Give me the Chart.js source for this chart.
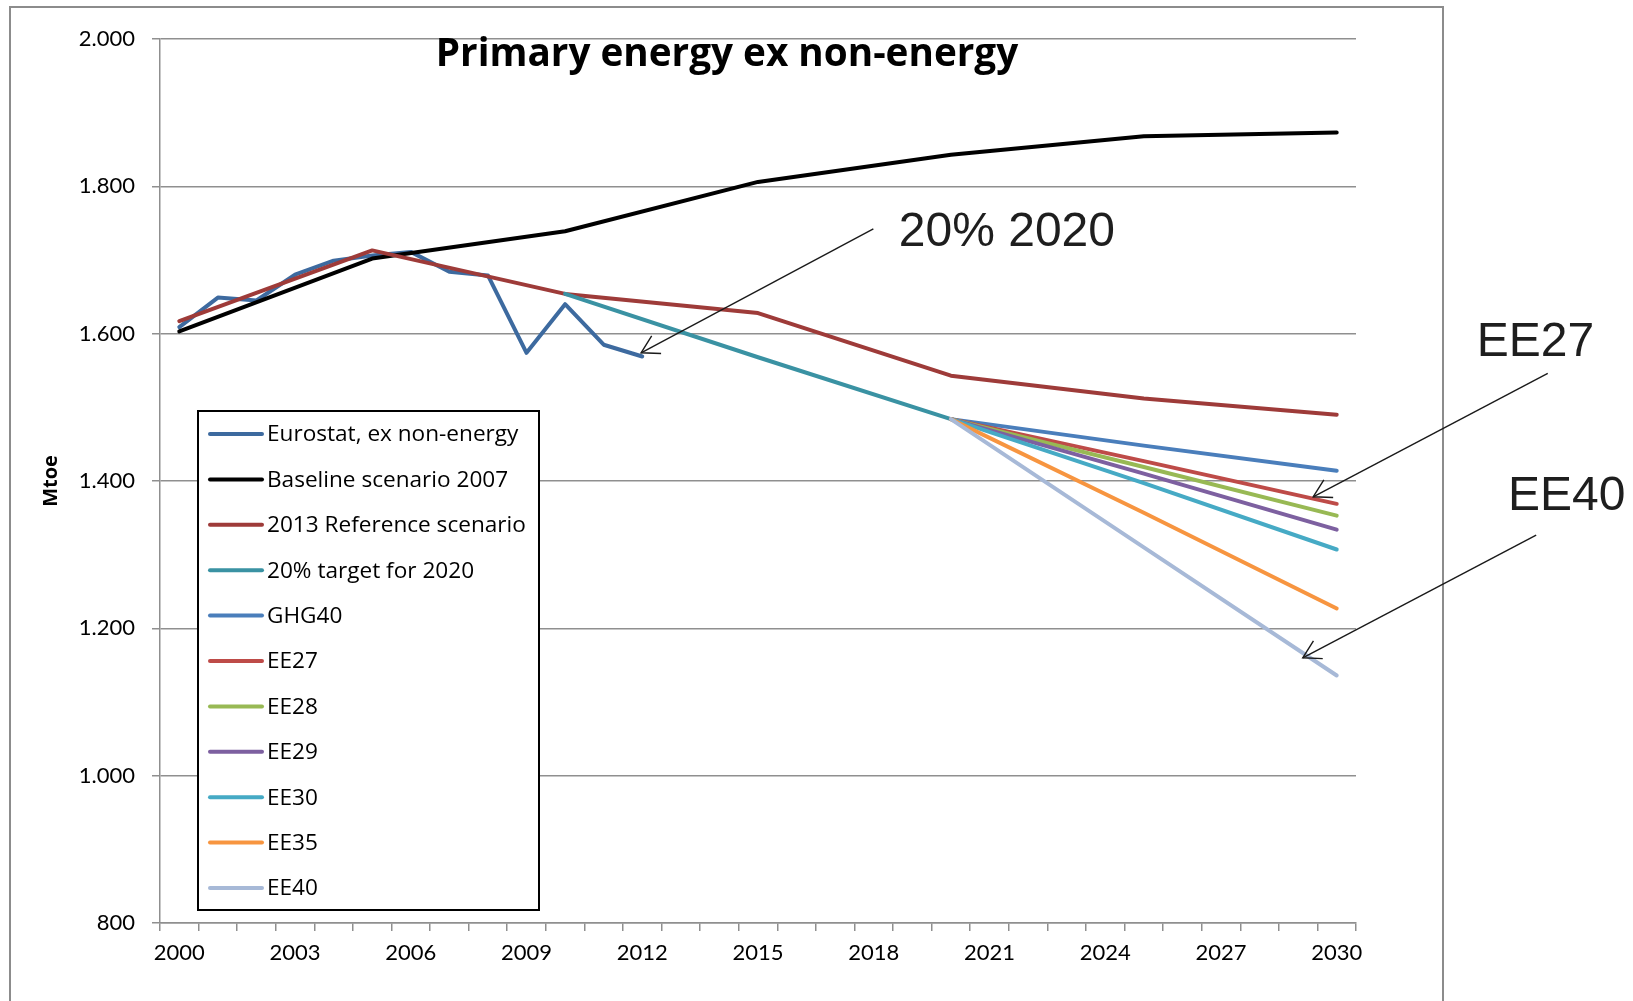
<!DOCTYPE html>
<html>
<head>
<meta charset="utf-8">
<title>Primary energy ex non-energy</title>
<script src="https://cdn.jsdelivr.net/npm/chart.js@4.4.1/dist/chart.umd.min.js"></script>
<style>
  html, body { margin: 0; padding: 0; background: #fff; }
</style>
</head>
<body>
<canvas id="energy-chart" width="1633" height="1001"></canvas>
<script>
// categories: one per year, labels shown every third year
const years = [2000, 2001, 2002, 2003, 2004, 2005, 2006, 2007, 2008, 2009,
               2010, 2011, 2012, 2013, 2014, 2015, 2016, 2017, 2018, 2019,
               2020, 2021, 2022, 2023, 2024, 2025, 2026, 2027, 2028, 2029, 2030];
const xTickLabels = ['2000', '2003', '2006', '2009', '2012', '2015', '2018', '2021', '2024', '2027', '2030'];
const yTickValues = [800, 1000, 1200, 1400, 1600, 1800, 2000];

// Mtoe, null = no value for that year
const eurostat = [1609, 1649, 1645, 1680, 1699, 1706, 1711, 1684, 1679, 1574,
                  1640, 1585, 1569, null, null, null, null, null, null, null,
                  null, null, null, null, null, null, null, null, null, null, null];
const baseline2007 = [1603, null, null, null, null, 1702, null, null, null, null,
                      1739, null, null, null, null, 1806, null, null, null, null,
                      1843, null, null, null, null, 1868, null, null, null, null, 1873];
const reference2013 = [1617, null, null, null, null, 1713, null, null, null, null,
                       1654, null, null, null, null, 1628, null, null, null, null,
                       1543, null, null, null, null, 1512, null, null, null, null, 1490];
const target2020 = [null, null, null, null, null, null, null, null, null, null,
                    1654, null, null, null, null, 1568, null, null, null, null,
                    1484, null, null, null, null, null, null, null, null, null, null];
const ghg40 = [null, null, null, null, null, null, null, null, null, null,
               null, null, null, null, null, null, null, null, null, null,
               1484, null, null, null, null, 1448, null, null, null, null, 1414];
const ee27 = [null, null, null, null, null, null, null, null, null, null,
              null, null, null, null, null, null, null, null, null, null,
              1484, null, null, null, null, 1427, null, null, null, null, 1369];
const ee28 = [null, null, null, null, null, null, null, null, null, null,
              null, null, null, null, null, null, null, null, null, null,
              1484, null, null, null, null, 1419, null, null, null, null, 1353];
const ee29 = [null, null, null, null, null, null, null, null, null, null,
              null, null, null, null, null, null, null, null, null, null,
              1484, null, null, null, null, 1410, null, null, null, null, 1334];
const ee30 = [null, null, null, null, null, null, null, null, null, null,
              null, null, null, null, null, null, null, null, null, null,
              1484, null, null, null, null, 1397, null, null, null, null, 1307];
const ee35 = [null, null, null, null, null, null, null, null, null, null,
              null, null, null, null, null, null, null, null, null, null,
              1484, null, null, null, null, 1357, null, null, null, null, 1227];
const ee40 = [null, null, null, null, null, null, null, null, null, null,
              null, null, null, null, null, null, null, null, null, null,
              1484, null, null, null, null, 1310, null, null, null, null, 1136];

const seriesNames = ['Eurostat, ex non-energy', 'Baseline scenario 2007', '2013 Reference scenario',
                     '20% target for 2020', 'GHG40', 'EE27', 'EE28', 'EE29', 'EE30', 'EE35', 'EE40'];
const seriesValues = [eurostat, baseline2007, reference2013, target2020, ghg40,
                      ee27, ee28, ee29, ee30, ee35, ee40];
const seriesColors = ['#3d6a9f', '#000000', '#9e3b39', '#3a92a3', '#4a7ebb',
                      '#be4b48', '#98b954', '#7d60a0', '#46aac5', '#f79540', '#a7b9d7'];

// callouts: [category index, Mtoe]
const callouts = [
    { text: '20% 2020', at: [18.65, 1718.7], tail: [17.99, 1742.4], tip: [11.97, 1574] },
    { text: 'EE27', at: [33.63, 1569.4], tail: [35.47, 1546], tip: [29.39, 1378.6] },
    { text: 'EE40', at: [34.44, 1360.4], tail: [35.17, 1326.4], tip: [29.12, 1160] }
];

const canvas = document.getElementById('energy-chart');
const context = canvas.getContext('2d');

const gridColor = '#8f8f8f';
const tickFont = { family: 'Lato', size: 22 };

const formatMtoe = (value) => {
    const s = String(value);
    return s.length > 3 ? s.slice(0, s.length - 3) + '.' + s.slice(-3) : s;
};

// font size that makes text about as wide as in the original
const fitFont = (ctx, text, prefix, family, width) => {
    ctx.font = `${prefix} 100px ${family}`;
    const size = 100 * width / ctx.measureText(text).width;
    return `${prefix} ${size.toFixed(1)}px ${family}`;
};

const drawArrow = (ctx, x1, y1, x2, y2) => {
    ctx.beginPath();
    ctx.moveTo(x1, y1);
    ctx.lineTo(x2, y2);
    ctx.stroke();

    const angle = Math.atan2(y1 - y2, x1 - x2);
    const len = 20;
    const spread = Math.PI / 6;
    ctx.beginPath();
    ctx.moveTo(x2 + len * Math.cos(angle + spread), y2 + len * Math.sin(angle + spread));
    ctx.lineTo(x2, y2);
    ctx.lineTo(x2 + len * Math.cos(angle - spread), y2 + len * Math.sin(angle - spread));
    ctx.stroke();
};

const decorations = {
    id: 'decorations',
    afterDraw: (chart) => {
        const ctx = chart.ctx;
        const { x, y } = chart.scales;
        ctx.save();

        // outer frame
        ctx.strokeStyle = '#8c8c8c';
        ctx.lineWidth = 2;
        ctx.strokeRect(10, 7, 1433, 1010);

        // title
        ctx.fillStyle = '#000';
        ctx.font = fitFont(ctx, 'Primary energy ex non-energy', 'bold', '"Open Sans"', 582);
        ctx.textAlign = 'center';
        ctx.textBaseline = 'middle';
        ctx.fillText('Primary energy ex non-energy', 727, 55);

        // legend
        ctx.fillStyle = '#fff';
        ctx.fillRect(198, 411, 341, 499);
        ctx.strokeStyle = '#000';
        ctx.lineWidth = 2;
        ctx.strokeRect(198, 411, 341, 499);
        ctx.font = fitFont(ctx, 'Eurostat, ex non-energy', 'normal', '"Open Sans"', 252);
        ctx.textAlign = 'left';
        ctx.lineCap = 'round';
        chart.data.datasets.forEach((ds, i) => {
            const rowY = 434 + i * 45.4;
            ctx.strokeStyle = ds.borderColor;
            ctx.lineWidth = 4;
            ctx.beginPath();
            ctx.moveTo(210, rowY);
            ctx.lineTo(262, rowY);
            ctx.stroke();
            ctx.fillStyle = '#000';
            ctx.fillText(ds.label, 267, rowY + 1);
        });

        // callouts
        ctx.strokeStyle = '#1a1a1a';
        ctx.lineWidth = 1.4;
        ctx.lineCap = 'butt';
        callouts.forEach((c) => {
            ctx.fillStyle = '#1e1e1e';
            ctx.font = '48px "Liberation Sans"';
            ctx.textBaseline = 'alphabetic';
            ctx.fillText(c.text, x.getPixelForValue(c.at[0]), y.getPixelForValue(c.at[1]));
            drawArrow(ctx,
                x.getPixelForValue(c.tail[0]), y.getPixelForValue(c.tail[1]),
                x.getPixelForValue(c.tip[0]), y.getPixelForValue(c.tip[1]));
        });

        ctx.restore();
    }
};

const datasets = seriesNames.map((name, i) => {
    return {
        label: name,
        data: seriesValues[i],
        borderColor: seriesColors[i],
        backgroundColor: seriesColors[i],
        borderWidth: 4,
        borderCapStyle: 'round',
        borderJoinStyle: 'round',
        pointRadius: 0,
        spanGaps: true,
        tension: 0,
        order: -i
    };
});

const chart = new Chart(context, {
    type: 'line',
    data: {
        labels: years,
        datasets
    },
    options: {
        responsive: false,
        animation: false,
        devicePixelRatio: 1,
        layout: { padding: { top: 39, right: 277, left: 0, bottom: 0 } },
        plugins: {
            legend: { display: false },
            tooltip: { enabled: false }
        },
        scales: {
            x: {
                offset: true,
                grid: { drawOnChartArea: false, drawTicks: true, tickLength: 8, offset: true, color: gridColor, lineWidth: 1.5 },
                border: { display: true, color: gridColor, width: 1.5 },
                ticks: {
                    autoSkip: false,
                    maxRotation: 0,
                    padding: 9,
                    color: '#000',
                    font: tickFont,
                    callback: (value, index) => xTickLabels.includes(String(years[index])) ? String(years[index]) : ''
                },
                afterFit: (scale) => { scale.height = 78; }
            },
            y: {
                min: yTickValues[0],
                max: yTickValues[yTickValues.length - 1],
                grid: { color: gridColor, lineWidth: 1.5, tickLength: 8 },
                border: { display: true, color: gridColor, width: 1.5 },
                ticks: {
                    stepSize: yTickValues[1] - yTickValues[0],
                    padding: 17,
                    color: '#000',
                    font: tickFont,
                    callback: (value) => formatMtoe(value)
                },
                title: {
                    display: true,
                    text: 'Mtoe',
                    color: '#000',
                    font: { family: 'Open Sans', size: 20, weight: 'bold' },
                    padding: { top: 39, bottom: 0 }
                },
                afterFit: (scale) => { scale.width = 160; }
            }
        }
    },
    plugins: [decorations]
});
</script>
</body>
</html>
